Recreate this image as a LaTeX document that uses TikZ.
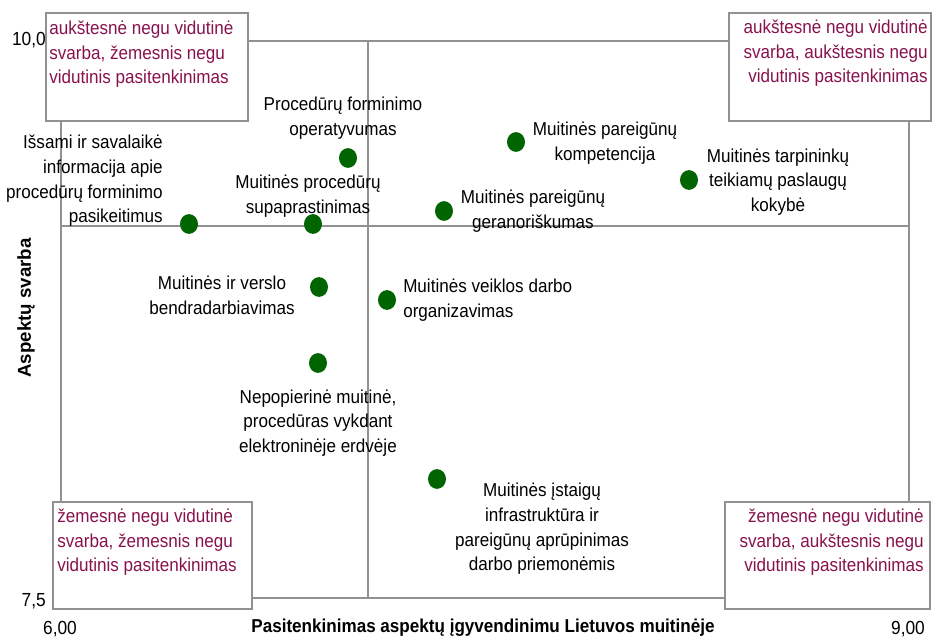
\documentclass[tikz,border=0pt]{standalone}
\usepackage{fontspec}
% the chart text is set slightly condensed and tall
\setmainfont{Liberation Sans}[FakeStretch=0.915]
\newfontfamily\uprightsans{Liberation Sans}
\usetikzlibrary{shapes.geometric}
\definecolor{quadtxt}{RGB}{136,18,78}
\definecolor{dotgreen}{RGB}{0,100,0}
\definecolor{gridgray}{RGB}{145,145,145}
\begin{document}
\begin{tikzpicture}[x=0.75pt,y=-0.75pt,
  gridline/.style={draw=gridgray, line width=0.9pt},
  quadbox/.style={draw=gridgray, fill=white, line width=0.9pt},
  quadtext/.style={text=quadtxt, inner sep=0pt, font=\fontsize{14}{18.5}\selectfont},
  pointdot/.style={ellipse, fill=dotgreen, inner sep=0pt, minimum width=13.5pt, minimum height=14.8pt},
  pointlabel/.style={inner sep=0pt, align=center, font=\fontsize{14}{18.5}\selectfont},
  ticklabel/.style={inner sep=0pt, font=\fontsize{14.2}{16}\selectfont},
  axistitle/.style={inner sep=0pt, font=\bfseries\fontsize{14}{16}\selectfont}]
\useasboundingbox (0,0) rectangle (932,638);

% plot frame and the two dividing lines
\coordinate (fNW) at (61,41);
\coordinate (fSE) at (909,598);
\coordinate (vTop) at (368,41);
\coordinate (vBot) at (368,598);
\coordinate (hL) at (61,226);
\coordinate (hR) at (909,226);
\draw[gridline] (fNW) rectangle (fSE);
\draw[gridline] (vTop) -- (vBot);
\draw[gridline] (hL) -- (hR);

% data points
\node[pointdot] (d1) at (348,158) {};
\node[pointdot] (d2) at (516,142) {};
\node[pointdot] (d3) at (689,180) {};
\node[pointdot] (d4) at (444,211) {};
\node[pointdot] (d5) at (189,224) {};
\node[pointdot] (d6) at (313,224) {};
\node[pointdot] (d7) at (319,287) {};
\node[pointdot] (d8) at (387,300) {};
\node[pointdot] (d9) at (318,363) {};
\node[pointdot] (d10) at (437,479) {};

% point labels
\node[pointlabel] (l1) at (343,118) {Procedūrų forminimo\\operatyvumas};
\node[pointlabel] (l2) at (605,143) {Muitinės pareigūnų\\kompetencija};
\node[pointlabel] (l3) at (778,182) {Muitinės tarpininkų\\teikiamų paslaugų\\kokybė};
\node[pointlabel] (l4) at (533,211) {Muitinės pareigūnų\\geranoriškumas};
\node[pointlabel, align=right, anchor=east] (l5) at (163,181) {Išsami ir savalaikė\\informacija apie\\procedūrų forminimo\\pasikeitimus};
\node[pointlabel] (l6) at (308,196) {Muitinės procedūrų\\supaprastinimas};
\node[pointlabel] (l7) at (222,295) {Muitinės ir verslo\\bendradarbiavimas};
\node[pointlabel, align=left, anchor=west] (l8) at (403,300) {Muitinės veiklos darbo\\organizavimas};
\node[pointlabel] (l9) at (318,423) {Nepopierinė muitinė,\\procedūras vykdant\\elektroninėje erdvėje};
\node[pointlabel] (l10) at (542,529) {Muitinės įstaigų\\infrastruktūra ir\\pareigūnų aprūpinimas\\darbo priemonėmis};

% quadrant boxes
\path[quadbox] (46,13) rectangle (248,121);
\node[quadtext, align=left, anchor=north west] (q1) at (49,20.5) {aukštesnė negu vidutinė\\svarba, žemesnis negu\\vidutinis pasitenkinimas};
\path[quadbox] (729,13) rectangle (931,121);
\node[quadtext, align=right, anchor=north east] (q2) at (928,19.5) {aukštesnė negu vidutinė\\svarba, aukštesnis negu\\vidutinis pasitenkinimas};
\path[quadbox] (53,502) rectangle (252,609);
\node[quadtext, align=left, anchor=north west] (q3) at (57,508.5) {žemesnė negu vidutinė\\svarba, žemesnis negu\\vidutinis pasitenkinimas};
\path[quadbox] (725,502) rectangle (930,609);
\node[quadtext, align=right, anchor=north east] (q4) at (924,508.5) {žemesnė negu vidutinė\\svarba, aukštesnis negu\\vidutinis pasitenkinimas};

% axis ticks and titles
\node[ticklabel, anchor=east] (y10) at (46,40) {10,0};
\node[ticklabel, anchor=east] (y75) at (46,601) {7,5};
\node[ticklabel] (x6) at (60,629) {6,00};
\node[ticklabel] (x9) at (908,629) {9,00};
\node[axistitle] (xt) at (483,628) {Pasitenkinimas aspektų įgyvendinimu Lietuvos muitinėje};
\node[axistitle, rotate=90, font=\uprightsans\bfseries\fontsize{14}{16}\selectfont] (yt) at (26,308) {Aspektų svarba};
\end{tikzpicture}
\end{document}
